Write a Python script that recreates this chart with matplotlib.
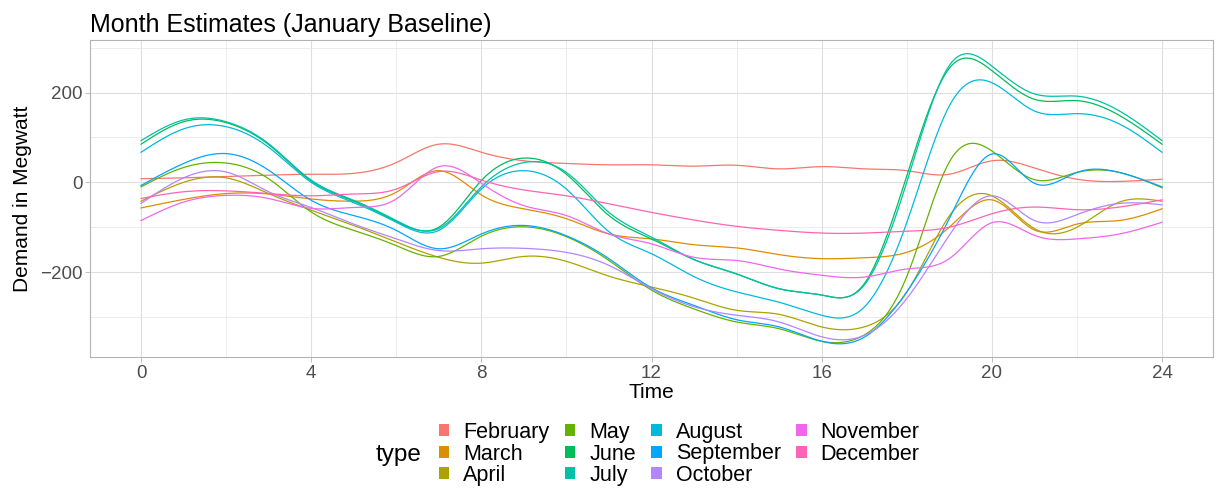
import numpy as np
import matplotlib
matplotlib.use("Agg")
import matplotlib.pyplot as plt
from matplotlib.patches import Patch

plt.rcParams['font.family'] = ['Liberation Sans', 'DejaVu Sans']

hours = list(range(25))
months = ["February", "March", "April", "May", "June", "July",
          "August", "September", "October", "November", "December"]
colors = ["#F8766D", "#DB8E00", "#AEA200", "#64B200", "#00BD5C", "#00C1A7",
          "#00BADE", "#00A6FF", "#B385FF", "#EF67EB", "#FF63B6"]

february = [8, 10, 13, 16, 18, 20, 44, 85, 67, 48, 42, 39, 39, 36, 38, 30, 35, 30, 26, 18, 48, 32, 7, 2, 7]
march = [-57, -38, -25, -26, -37, -42, -22, 26, -28, -59, -81, -115, -126, -139, -146, -161, -170, -168, -156, -100, -39, -106, -93, -85, -59]
april = [-42, 0, 10, -25, -62, -96, -133, -167, -180, -165, -176, -209, -233, -258, -285, -294, -322, -322, -245, -75, -30, -103, -100, -44, -42]
may = [-10, 33, 43, 8, -66, -107, -141, -165, -120, -99, -121, -174, -240, -282, -311, -326, -354, -340, -210, 45, 70, 6, 22, 22, -12]
june = [85, 135, 133, 84, 3, -42, -87, -100, 4, 54, 18, -74, -126, -172, -204, -237, -251, -226, 14, 254, 249, 185, 182, 149, 85]
july = [93, 139, 135, 86, 5, -40, -85, -103, -10, 44, 22, -67, -122, -172, -204, -237, -251, -229, 0, 260, 259, 197, 192, 159, 93]
august = [67, 119, 124, 78, 0, -45, -89, -107, -15, 26, -15, -110, -159, -210, -244, -267, -296, -278, -90, 170, 222, 159, 153, 130, 67]
september = [-7, 42, 64, 27, -40, -74, -107, -148, -115, -96, -119, -170, -235, -274, -306, -322, -354, -345, -244, -81, 63, -2, 22, 22, -10]
october = [-47, 10, 23, -21, -56, -93, -126, -152, -148, -147, -156, -185, -237, -277, -296, -311, -344, -341, -259, -118, -30, -85, -72, -47, -50]
november = [-85, -44, -29, -36, -58, -56, -37, 35, -2, -52, -74, -115, -137, -167, -174, -193, -207, -211, -193, -170, -90, -118, -126, -115, -89]
december = [-36, -21, -19, -25, -30, -26, -15, 24, 5, -17, -30, -48, -67, -84, -98, -107, -113, -113, -109, -100, -70, -55, -61, -55, -39]

series = [february, march, april, may, june, july, august, september,
          october, november, december]


def natural_spline(x, y, xs):
    x = np.asarray(x, float)
    y = np.asarray(y, float)
    n = len(x)
    h = np.diff(x)
    A = np.zeros((n, n))
    b = np.zeros(n)
    A[0, 0] = 1.0
    A[-1, -1] = 1.0
    for i in range(1, n - 1):
        A[i, i - 1] = h[i - 1]
        A[i, i] = 2 * (h[i - 1] + h[i])
        A[i, i + 1] = h[i]
        b[i] = 3 * ((y[i + 1] - y[i]) / h[i] - (y[i] - y[i - 1]) / h[i - 1])
    c = np.linalg.solve(A, b)
    bb = (y[1:] - y[:-1]) / h - h * (2 * c[:-1] + c[1:]) / 3
    d = (c[1:] - c[:-1]) / (3 * h)
    idx = np.clip(np.searchsorted(x, xs) - 1, 0, n - 2)
    dx = xs - x[idx]
    return y[idx] + bb[idx] * dx + c[idx] * dx ** 2 + d[idx] * dx ** 3


W, H = 1218, 488
fig = plt.figure(figsize=(W / 100, H / 100), dpi=100)
ax = fig.add_axes([90 / W, 1 - 357 / H, (1213 - 90) / W, (357 - 40) / H])

xs = np.linspace(0, 24, 600)
for vals, col, name in zip(series, colors, months):
    ax.plot(xs, natural_spline(hours, vals, xs), color=col, lw=0.9, label=name)

ax.set_xlim(-1.2, 25.2)
ax.set_ylim(-389, 317)
ax.set_xticks([0, 4, 8, 12, 16, 20, 24])
ax.set_xticks([2, 6, 10, 14, 18, 22], minor=True)
ax.set_yticks([-200, 0, 200])
ax.set_yticks([-300, -100, 100, 300], minor=True)
ax.set_yticklabels(["\u2212200", "0", "200"])

ax.grid(which='major', color='#DEDEDE', lw=0.8)
ax.grid(which='minor', color='#E4E4E4', lw=0.5)
ax.set_axisbelow(True)
for s in ax.spines.values():
    s.set_color('#B3B3B3')
    s.set_linewidth(0.8)
ax.tick_params(which='major', length=3.5, width=0.6, color='#B3B3B3',
               labelsize=13.5, labelcolor='#4D4D4D', pad=2)
ax.tick_params(which='minor', length=0)

ax.set_xlabel("Time", fontsize=15, color='black', labelpad=1)
ax.set_ylabel("Demand in Megwatt", fontsize=15, color='black', labelpad=6)
ax.set_title("Month Estimates (January Baseline)", fontsize=18,
             loc='left', pad=6)

handles = [Patch(facecolor=c, edgecolor='none') for c in colors]
fig.legend(handles, months, ncol=4, loc='center left',
           bbox_to_anchor=(439 / W, 1 - 454 / H), frameon=False,
           handlelength=0.48, handleheight=0.48, handletextpad=0.65,
           columnspacing=0.72, labelspacing=0.02, fontsize=15.5,
           borderpad=0, borderaxespad=0)
fig.text(376 / W, 1 - 455 / H, "type", fontsize=17.5, va='center', ha='left')

fig.savefig("out.png", dpi=100)
